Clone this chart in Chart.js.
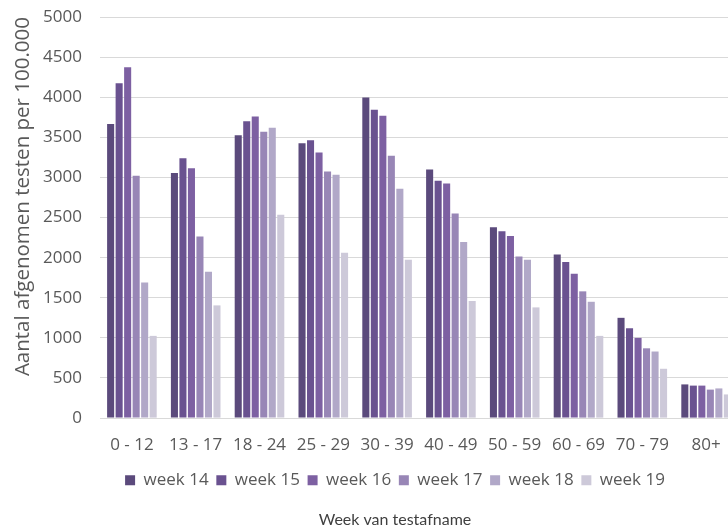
<!DOCTYPE html>
<html>
<head>
<meta charset="utf-8">
<script src="https://cdn.jsdelivr.net/npm/chart.js@4"></script>
<style>
  html, body { margin: 0; padding: 0; background: #ffffff; overflow: hidden; }
  #wrap { width: 728px; height: 531px; overflow: hidden; }
  canvas { display: block; }
</style>
</head>
<body>
<div id="wrap"><canvas id="chart" width="790" height="531"></canvas></div>
<script>
// --- Data ---
const ageGroups = ['0 - 12', '13 - 17', '18 - 24', '25 - 29', '30 - 39', '40 - 49', '50 - 59', '60 - 69', '70 - 79', '80+'];
const weekLabels = ['week 14', 'week 15', 'week 16', 'week 17', 'week 18', 'week 19'];
const week14 = [3665, 3055, 3525, 3425, 3995, 3100, 2380, 2040, 1250, 420];
const week15 = [4175, 3240, 3700, 3465, 3845, 2960, 2330, 1945, 1120, 405];
const week16 = [4375, 3115, 3760, 3310, 3770, 2925, 2270, 1800, 1000, 405];
const week17 = [3020, 2265, 3570, 3075, 3270, 2550, 2015, 1580, 870, 355];
const week18 = [1690, 1825, 3620, 3035, 2860, 2195, 1975, 1450, 830, 370];
const week19 = [1025, 1405, 2535, 2060, 1975, 1460, 1380, 1025, 615, 295];
const yTicks = [0, 500, 1000, 1500, 2000, 2500, 3000, 3500, 4000, 4500, 5000];

const weekColors = ['#5b4a7c', '#6a5290', '#7d60a2', '#9886b6', '#b1a8c8', '#cdc9d9'];
const seriesValues = [week14, week15, week16, week17, week18, week19];

const textGrey = '#595959';

const datasets = weekLabels.map((label, i) => ({
    label: label,
    data: seriesValues[i],
    backgroundColor: weekColors[i],
    borderWidth: 0,
    categoryPercentage: 0.8,
    barPercentage: 0.83
}));

new Chart(document.getElementById('chart').getContext('2d'), {
    type: 'bar',
    data: { labels: ageGroups, datasets: datasets },
    options: {
        responsive: false,
        animation: false,
        layout: { padding: { top: 17, right: 0, bottom: 0, left: 0 } },
        scales: {
            x: {
                afterFit: (scale) => { scale.height = 46; },
                grid: { display: false, drawTicks: false },
                border: { display: false },
                ticks: {
                    color: textGrey,
                    padding: 17,
                    maxRotation: 0,
                    font: { family: 'Open Sans', size: 17 }
                }
            },
            y: {
                min: 0,
                max: 5000,
                afterBuildTicks: (scale) => { scale.ticks = yTicks.map(v => ({ value: v })); },
                afterFit: (scale) => { scale.width = 100; },
                grid: { color: '#d9d9d9', lineWidth: 1, drawTicks: true, tickLength: 18, tickColor: 'rgba(0,0,0,0)' },
                border: { display: false },
                ticks: {
                    color: textGrey,
                    padding: 0,
                    callback: (v) => String(v),
                    font: { family: 'Open Sans', size: 17, lineHeight: 1 }
                },
                title: {
                    display: true,
                    text: 'Aantal afgenomen testen per 100.000',
                    color: textGrey,
                    align: 'end',
                    padding: { top: 11, bottom: 0 },
                    font: { family: 'Open Sans', size: 20.5 }
                }
            },
            // empty right-hand spacer so the chart runs past the window edge
            // while legend and title stay centred where the original has them
            spacer: {
                type: 'linear',
                position: 'right',
                afterFit: (scale) => { scale.width = 52; },
                grid: { display: false, drawTicks: false },
                border: { display: false },
                ticks: { display: false }
            }
        },
        plugins: {
            legend: {
                position: 'bottom',
                labels: {
                    color: textGrey,
                    boxWidth: 10,
                    boxHeight: 10,
                    padding: 7.7,
                    font: { family: 'Open Sans', size: 17 }
                }
            },
            title: {
                display: true,
                position: 'bottom',
                text: 'Week van testafname',
                color: '#404040',
                padding: { top: 11, bottom: 2 },
                font: { family: 'Lato', size: 16, weight: 'normal' }
            },
            tooltip: { enabled: false }
        }
    }
});
</script>
</body>
</html>
